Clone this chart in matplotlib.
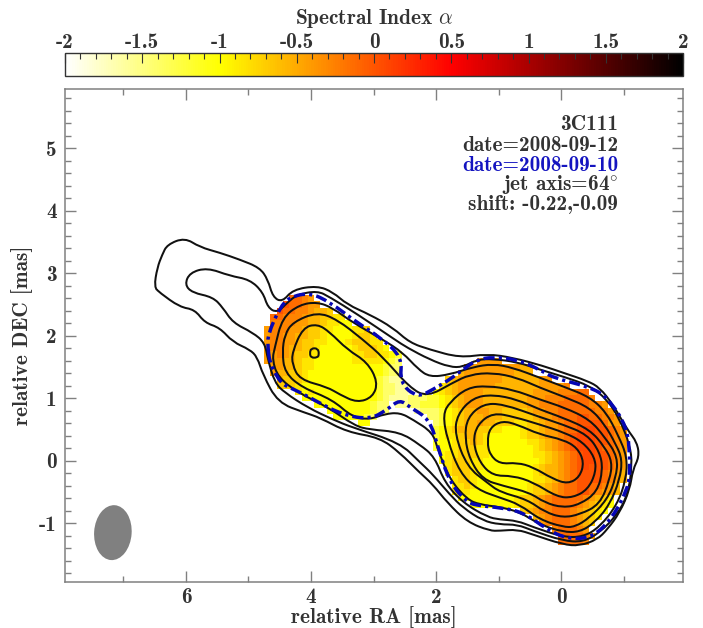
import numpy as np
import matplotlib
matplotlib.use("Agg")
import matplotlib.pyplot as plt
from matplotlib.colors import LinearSegmentedColormap, Normalize
from matplotlib.cm import ScalarMappable
from matplotlib.patches import Ellipse, PathPatch
from matplotlib.path import Path
from matplotlib.ticker import FixedLocator, FixedFormatter, MultipleLocator

plt.rcParams['font.family'] = ['cmb10', 'DejaVu Serif']
plt.rcParams['mathtext.fontset'] = 'cm'
plt.rcParams['axes.unicode_minus'] = False

# spectral index cells, one letter per cell, rows run from dec 2.6 down in 0.1 steps
alpha_key = dict(a=-1.8, b=-1.6, c=-1.4, d=-1.2, e=-1.0, f=-0.85, g=-0.7, h=-0.55,
                 i=-0.42, j=-0.28, k=-0.14, l=0.0, m=0.08)
cell_ra = np.round(4.7 - 0.1*np.arange(59), 1)
cell_dec = np.round(2.6 - 0.1*np.arange(40), 1)

# (row, first column, letters)
west_rows = [(0, 4, "kkji"), (1, 3, "lkkjii"), (2, 2, "lkkjjihhg"), (3, 1, "kkjjjihhggff"),
             (4, 1, "jjjjiihhgffee"), (5, 0, "ijjjiihggffeeeffg"), (6, 0, "ijjiihhggfeeeefggf"),
             (7, 0, "ijjiihggffeeefgggff"), (8, 0, "ijjihhggfeeeeefgggfe"),
             (9, 0, "iijihggffeeeeeffggffed"), (10, 0, "iiihhgffeeeeeefffffedc"),
             (11, 1, "iihhgffeeeeeeeeeeedcc"), (12, 1, "ihhggfeeeeeeeeeeeedcc"),
             (13, 2, "hgggfeeeeeeeeeeedcbb"), (14, 2, "gggfeeeeeeeeeeeedccbb"),
             (15, 5, "fefeeeeeeeeeedccbba"), (16, 6, "eeeeeeeeeeeedcbbb"),
             (17, 8, "eeeeeeeeedcc"), (18, 10, "eeeeeeedcc"), (19, 11, "eeeeedc"), (20, 15, "ee")]
east_rows = [(10, 34, "iiii"), (11, 32, "iiiiiiiiihh"), (12, 31, "hiiiiiiiihhh"),
             (13, 29, "ghiiiiiiihhhhhhii"), (14, 28, "fghiiiiiihhhhhhhiiiij"),
             (15, 27, "efghiiiihhhhhhhhiiiijjjkk"), (16, 23, "cccddefghiiihhhhhhhiiijjjkkkkj"),
             (17, 21, "bbccdddefghiiihhhhhhhiijjjkkkkkjji"), (18, 24, "bcccdefghhiihhgggghiijjkkkkkkjji"),
             (19, 26, "ccdefghhhihhggggghiijkkkllkkjji"), (20, 27, "cdefghhihhgggffgghiijkkllllkii"),
             (21, 27, "defghhhggffeeefgghiijkklmmllkji"), (22, 27, "deffghhgfeeeeefgghiijklmmmllkji"),
             (23, 27, "deefgghgfeeeeeeffghijklmmmllkji"), (24, 27, "deefgggffeeeeeeefghijklmmmlkkji"),
             (25, 28, "effgggffeeeeeeeffghijklmmllkji"), (26, 28, "efgggffeeeeeeeeefghijklmmllkji"),
             (27, 29, "fgggffeeeeeeeefghhijklmlllkji"), (28, 29, "fgggfeeeeeeeeefghhijkllllkjih"),
             (29, 30, "fggfeeeeeeeeeffghijkllllkjih"), (30, 30, "ffgfeeeeeeeefgghijkkllkkjih"),
             (31, 30, "fffeeeeeeeeefgghijkkllkjiih"), (32, 31, "eeeeeeeeefgghijkkkkkjihgf"),
             (33, 33, "eeeeeeefgghijkkkkjihgfe"), (34, 41, "ghijjkkkjihgfe"), (35, 43, "hijkkkjihgf"),
             (36, 44, "ijkkkjihg"), (37, 46, "jkkkji"), (38, 47, "kkkkji"), (39, 47, "kkkkj")]

# contours as (ra, dec), outermost first
contour_1 = [(6.51,2.78),(6.46,3.09),(6.38,3.30),(6.30,3.46),(6.02,3.57),(5.78,3.42),(5.46,3.33),(5.14,3.22),
             (4.82,3.09),(4.69,2.90),(4.61,2.62),(4.46,2.54),(4.29,2.74),(3.90,2.80),(3.65,2.70),(3.42,2.50),
             (3.06,2.34),(2.69,2.13),(2.42,1.89),(2.10,1.78),(1.62,1.65),(1.18,1.71),(0.77,1.65),(0.29,1.52),
             (-0.03,1.41),(-0.42,1.28),(-0.62,1.17),(-0.83,0.90),(-1.06,0.50),(-1.22,0.29),(-1.25,0.06),
             (-1.15,-0.14),(-1.10,-0.46),(-0.94,-0.83),(-0.74,-1.10),(-0.58,-1.26),(-0.30,-1.36),(-0.03,-1.34),
             (0.45,-1.18),(0.70,-1.10),(0.98,-1.12),(1.14,-1.12),(1.50,-0.98),(1.82,-0.67),(2.05,-0.38),
             (2.26,-0.19),(2.58,0.13),(2.90,0.37),(3.42,0.46),(3.86,0.69),(4.10,0.77),(4.53,0.93),(4.77,1.38),
             (4.86,1.66),(4.98,1.78),(5.25,1.90),(5.46,2.13),(5.70,2.21),(5.86,2.42),(6.10,2.46),(6.42,2.69)]
contour_2 = [(6.02,2.82),(5.94,3.01),(5.66,3.09),(5.30,2.96),(4.98,2.90),(4.77,2.70),(4.69,2.45),(4.54,2.37),
             (4.38,2.53),(4.22,2.66),(3.90,2.72),(3.70,2.62),(3.25,2.34),(2.66,1.94),(2.46,1.81),(2.10,1.62),
             (1.78,1.50),(1.57,1.50),(1.34,1.62),(1.09,1.63),(0.70,1.58),(0.34,1.46),(-0.06,1.34),(-0.46,1.20),
             (-0.74,0.98),(-0.94,0.66),(-1.10,0.26),(-1.14,-0.06),(-1.07,-0.54),(-0.90,-0.86),(-0.62,-1.15),
             (-0.35,-1.30),(-0.03,-1.28),(0.45,-1.12),(0.70,-1.02),(0.98,-1.02),(1.25,-0.96),(1.57,-0.75),
             (1.78,-0.54),(2.05,-0.22),(2.26,-0.02),(2.58,0.29),(3.33,0.53),(3.65,0.66),(4.05,0.85),(4.42,1.09),
             (4.58,1.25),(4.69,1.62),(4.74,1.89),(4.93,2.05),(5.25,2.21),(5.41,2.45),(5.57,2.62),(5.90,2.69)]
contour_3 = [(4.62,1.62),(4.58,1.81),(4.46,2.29),(4.18,2.50),(3.90,2.54),(3.66,2.45),(3.33,2.21),(2.85,1.94),
             (2.53,1.73),(2.29,1.47),(2.10,1.34),(1.78,1.38),(1.41,1.50),(1.09,1.55),(0.77,1.49),(0.34,1.33),
             (-0.06,1.18),(-0.46,1.02),(-0.72,0.78),(-0.91,0.42),(-1.06,0.06),(-1.04,-0.30),(-0.90,-0.70),
             (-0.62,-1.06),(-0.35,-1.22),(-0.03,-1.22),(0.45,-1.06),(0.70,-0.96),(0.98,-0.94),(1.18,-0.90),
             (1.57,-0.67),(1.86,-0.35),(2.02,0.06),(2.26,0.26),(2.58,0.46),(3.06,0.50),(3.30,0.56),(3.73,0.86),
             (4.21,1.09),(4.53,1.34)]
contour_4 = [(4.46,1.74),(4.42,2.02),(4.29,2.22),(3.90,2.38),(3.58,2.26),(3.17,1.94),(2.85,1.66),(2.42,1.17),
             (2.14,1.02),(1.73,1.25),(1.46,1.38),(1.09,1.41),(0.70,1.33),(0.34,1.17),(-0.06,1.02),(-0.46,0.85),
             (-0.70,0.58),(-0.88,0.26),(-0.98,0.02),(-0.94,-0.30),(-0.78,-0.70),(-0.54,-0.99),(-0.30,-1.14),
             (-0.03,-1.14),(0.34,-1.02),(0.66,-0.82),(0.98,-0.74),(1.30,-0.70),(1.50,-0.62),(1.78,-0.30),
             (1.97,0.18),(2.05,0.45),(2.37,0.66),(2.58,0.77),(2.82,0.75),(3.06,0.66),(3.34,0.70),(3.66,0.98),
             (4.14,1.17),(4.42,1.41)]
contour_west = [(4.30,1.74),(4.13,2.13),(3.90,2.19),(3.70,2.06),(3.42,1.78),(3.10,1.58),(2.93,1.26),(3.01,1.02),
                (3.26,0.93),(3.54,1.06),(3.74,1.18),(4.18,1.30),(4.30,1.54)]
contour_peak = [(4.00,1.80),(3.89,1.80),(3.87,1.70),(3.90,1.65),(4.00,1.65),(4.02,1.72)]
contour_5 = [(1.89,0.74),(1.78,0.94),(1.50,1.17),(1.18,1.20),(0.77,1.14),(0.34,0.98),(-0.06,0.85),(-0.46,0.66),
             (-0.70,0.38),(-0.91,0.06),(-0.88,-0.27),(-0.74,-0.62),(-0.46,-0.91),(-0.22,-1.06),(-0.03,-1.06),
             (0.34,-0.94),(0.66,-0.70),(0.98,-0.59),(1.34,-0.46),(1.62,-0.19),(1.82,0.34)]
contour_6 = [(1.70,0.42),(1.66,0.74),(1.41,1.01),(1.09,1.06),(0.70,0.98),(0.34,0.82),(-0.03,0.69),(-0.46,0.50),
             (-0.70,0.22),(-0.82,-0.02),(-0.78,-0.30),(-0.62,-0.70),(-0.30,-0.86),(-0.03,-0.91),(0.26,-0.82),
             (0.54,-0.62),(0.98,-0.50),(1.18,-0.35),(1.50,-0.10)]
contour_7 = [(1.54,0.37),(1.50,0.69),(1.25,0.91),(0.93,0.91),(0.34,0.70),(-0.03,0.58),(-0.42,0.42),(-0.62,0.14),
             (-0.67,-0.14),(-0.58,-0.50),(-0.30,-0.70),(-0.03,-0.75),(0.26,-0.67),(0.50,-0.51),(0.93,-0.40),
             (1.25,-0.30),(1.46,0.02)]
contour_8 = [(1.41,0.30),(1.34,0.58),(1.09,0.77),(0.74,0.70),(0.34,0.58),(-0.06,0.45),(-0.35,0.30),(-0.54,0.06),
             (-0.56,-0.18),(-0.43,-0.46),(-0.19,-0.59),(0.06,-0.58),(0.45,-0.34),(0.77,-0.24),(1.09,-0.24),(1.30,-0.03)]
contour_9 = [(1.18,0.30),(1.14,0.53),(0.94,0.64),(0.70,0.58),(0.34,0.42),(-0.03,0.34),(-0.26,0.21),(-0.37,-0.02),
             (-0.30,-0.26),(-0.11,-0.37),(0.13,-0.29),(0.45,-0.10),(0.70,-0.03),(0.98,-0.05),(1.14,0.10)]
contour_blue = [(4.69,1.81),(4.69,2.02),(4.50,2.45),(4.34,2.62),(4.02,2.69),(3.70,2.54),(3.26,2.21),(2.90,1.98),
                (2.54,1.66),(2.58,1.25),(2.30,1.01),(2.05,1.14),(1.78,1.30),(1.57,1.46),(1.34,1.62),(1.09,1.66),
                (0.70,1.62),(0.34,1.46),(0.13,1.33),(-0.46,1.18),(-0.74,1.02),(-1.06,0.54),(-1.10,0.06),(-1.10,-0.22),
                (-1.06,-0.46),(-0.83,-0.90),(-0.51,-1.23),(-0.10,-1.25),(0.22,-1.10),(0.61,-0.82),(0.98,-0.75),
                (1.30,-0.72),(1.50,-0.67),(1.78,-0.35),(1.97,0.22),(2.10,0.66),(2.42,0.86),(2.58,0.98),(2.78,0.82),
                (3.06,0.66),(3.50,0.74),(3.89,0.94),(4.22,1.12),(4.46,1.22),(4.58,1.41),(4.66,1.58)]

cbar_ticks = [-2, -1.5, -1, -0.5, 0, 0.5, 1, 1.5, 2]
cbar_labels = ["-2", "-1.5", "-1", "-0.5", "0", "0.5", "1", "1.5", "2"]
ra_ticks = [6, 4, 2, 0]
dec_ticks = [-1, 0, 1, 2, 3, 4, 5]
dec_labels = ["-1", "0", "1", "2", "3", "4", "5"]
info_lines = ["3C111", "date=2008-09-12", "date=2008-09-10", r"jet axis=64$^{\circ}$", "shift: -0.22,-0.09"]

grey = "#808080"
ink = "#333333"
fs = 15.3
w, h = 703, 628
cmap = LinearSegmentedColormap.from_list("si", [(0, "white"), (0.25, "yellow"), (0.625, "red"), (1, "black")])
norm = Normalize(-2, 2)


def closed_curve(pts):
    # quadratic segments through the midpoints so hand read contours stay round
    pts = np.array(pts)
    mids = (pts + np.roll(pts, -1, axis=0))/2
    verts, codes = [mids[-1]], [Path.MOVETO]
    for p, m in zip(pts, mids):
        verts += [p, m]
        codes += [Path.CURVE3, Path.CURVE3]
    return Path(verts, codes)


def fill_cells():
    grid = np.full((cell_dec.size, cell_ra.size), np.nan)
    for r, c0, s in west_rows + east_rows:
        grid[r, c0:c0+len(s)] = [alpha_key[k] for k in s]
    return grid


fig = plt.figure(figsize=(w/100, h/100), dpi=100)
ax = fig.add_axes([65/w, 1-582/h, 618/w, 493/h])
cax = fig.add_axes([65/w, 1-76/h, 618/w, 23/h])

ra_edges = np.append(cell_ra + 0.05, cell_ra[-1] - 0.05)
dec_edges = np.append(cell_dec + 0.05, cell_dec[-1] - 0.05)
ax.pcolormesh(ra_edges, dec_edges, fill_cells(), cmap=cmap, norm=norm, linewidth=0, rasterized=True)

for c in [contour_1, contour_2, contour_3, contour_4, contour_west, contour_peak,
          contour_5, contour_6, contour_7, contour_8, contour_9]:
    ax.add_patch(PathPatch(closed_curve(c), fc="none", ec="#111111", lw=1.45))
ax.add_patch(PathPatch(closed_curve(contour_blue), fc="none", ec="#0606b4", lw=2.5, ls=(0, (3.2, 1.2, 0.9, 1.2))))
ax.add_patch(Ellipse((7.17, -1.15), 0.6, 0.88, angle=4, fc="#808080", ec="none"))

ax.set_xlim(7.936, -1.952)
ax.set_ylim(-1.94, 5.95)
ax.xaxis.set_major_locator(FixedLocator(ra_ticks))
ax.xaxis.set_minor_locator(MultipleLocator(1))
ax.yaxis.set_major_locator(FixedLocator(dec_ticks))
ax.yaxis.set_major_formatter(FixedFormatter(dec_labels))
ax.yaxis.set_minor_locator(MultipleLocator(0.2))
ax.tick_params(which="major", direction="in", top=True, right=True, length=8, width=1, color=grey,
               labelsize=fs, labelcolor=ink, pad=6)
ax.tick_params(axis="x", which="major", pad=4)
ax.tick_params(which="minor", direction="in", top=True, right=True, length=4.3, width=1, color=grey)
for s in ax.spines.values():
    s.set_color(grey)
    s.set_linewidth(1.1)
ax.set_xlabel("relative RA [mas]", fontsize=fs, color=ink, va="center")
ax.set_ylabel("relative DEC [mas]", fontsize=fs, color=ink, va="center")
ax.xaxis.set_label_coords(0.5, (582-617.5)/493)
ax.yaxis.set_label_coords((22-65)/618, 0.5)

ys = [5.38, 5.04, 4.72, 4.41, 4.10]
cols = [ink, ink, "#1414c0", ink, ink]
for t, y, col in zip(info_lines, ys, cols):
    ax.text(-0.912, y, t, ha="right", va="center", fontsize=fs, color=col)

cb = fig.colorbar(ScalarMappable(norm=norm, cmap=cmap), cax=cax, orientation="horizontal")
cb.set_ticks(cbar_ticks, labels=cbar_labels)
cax.xaxis.set_ticks_position("top")
cax.xaxis.set_label_position("top")
cax.xaxis.set_minor_locator(MultipleLocator(0.1))
cax.tick_params(which="major", direction="in", length=7.5, width=0.8, color=ink, labelsize=fs, labelcolor=ink, pad=1)
cax.tick_params(which="minor", direction="in", length=4.5, width=0.8, color=ink)
cb.outline.set_edgecolor(ink)
cb.outline.set_linewidth(1)
cax.set_xlabel(r"Spectral Index $\alpha$", fontsize=fs, color=ink, va="center")
cax.xaxis.set_label_coords(0.5, (76-18)/23)

fig.savefig("out.png", dpi=100)
